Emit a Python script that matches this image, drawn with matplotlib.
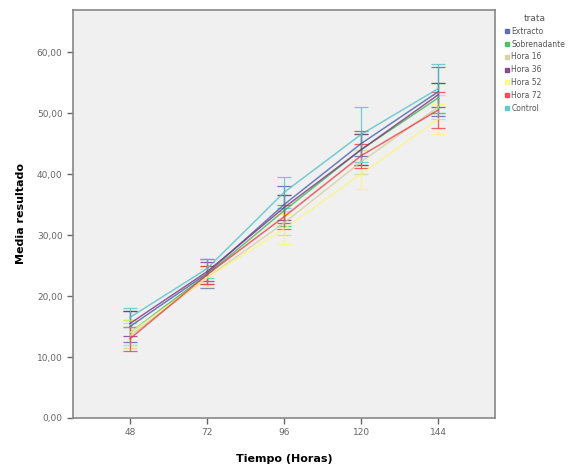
import numpy as np
from matplotlib import pyplot as plt
from matplotlib.lines import Line2D
from matplotlib.ticker import FuncFormatter

# datos
horas = ['48', '72', '96', '120', '144']
grupos = ['Extracto', 'Sobrenadante', 'Hora 16', 'Hora 36', 'Hora 52', 'Hora 72', 'Control']
colores = ['#3e58ac', '#2eb848', '#d3ce97', '#7c287d', '#fbf873', '#ef3338', '#48c2c5']

extracto = [15.0, 23.7, 35.0, 45.0, 53.5]
sobrenadante = [14.0, 23.5, 34.0, 44.0, 52.5]
hora16 = [13.5, 23.0, 32.0, 42.0, 51.0]
hora36 = [15.5, 24.0, 34.5, 44.0, 53.0]
hora52 = [14.0, 23.0, 31.0, 40.0, 49.0]
hora72 = [13.0, 23.5, 33.0, 43.0, 50.5]
control = [16.5, 24.5, 37.0, 46.5, 54.0]

err_extracto = [2.5, 2.4, 3.0, 2.0, 4.0]
err_sobrenadante = [2.0, 1.5, 2.5, 2.5, 2.5]
err_hora16 = [2.0, 1.5, 2.0, 2.0, 2.0]
err_hora36 = [2.0, 1.5, 2.0, 2.5, 2.0]
err_hora52 = [2.0, 1.5, 2.5, 2.5, 2.5]
err_hora72 = [2.0, 1.5, 2.0, 2.0, 3.0]
err_control = [1.5, 1.5, 2.5, 4.5, 4.0]

medias = [extracto, sobrenadante, hora16, hora36, hora52, hora72, control]
errores = [err_extracto, err_sobrenadante, err_hora16, err_hora36, err_hora52, err_hora72, err_control]

fig = plt.figure(figsize=(5.84, 4.75), dpi=100)
ax = fig.add_axes([0.125, 0.12, 0.723, 0.859])
ax.set_facecolor('#f0f0f0')

x = np.arange(len(horas))
for m, e, c in zip(medias, errores, colores):
    ax.errorbar(x, m, yerr=e, color=c, lw=1.1, elinewidth=0.9, capsize=5, capthick=0.9, alpha=0.75)

ax.set_xlim(-0.74, 4.74)
ax.set_ylim(0, 66.9)
ax.set_xticks(x)
ax.set_xticklabels(horas)
ax.set_yticks(np.arange(0, 61, 10))
ax.yaxis.set_major_formatter(FuncFormatter(lambda v, p: ('%.2f' % v).replace('.', ',')))
ax.tick_params(labelsize=6.5, colors='#666666', length=4, width=1)
for s in ax.spines.values():
    s.set_color('#888888')
    s.set_linewidth(1.2)

ax.set_ylabel('Media resultado', fontsize=8, fontweight='bold', labelpad=8)
ax.set_xlabel('Tiempo (Horas)', fontsize=8, fontweight='bold', labelpad=12)

handles = [Line2D([0], [0], color=c, marker='s', markersize=3.5, lw=0, alpha=0.8) for c in colores]
leg = fig.legend(handles, grupos, title='trata', loc='upper left', bbox_to_anchor=(0.852, 0.985),
                 fontsize=5.5, title_fontsize=6.5, frameon=False, handlelength=0.6,
                 handletextpad=0.3, labelspacing=0.5, labelcolor='#555555')
leg.get_title().set_color('#555555')

plt.savefig('out.png', dpi=100)
